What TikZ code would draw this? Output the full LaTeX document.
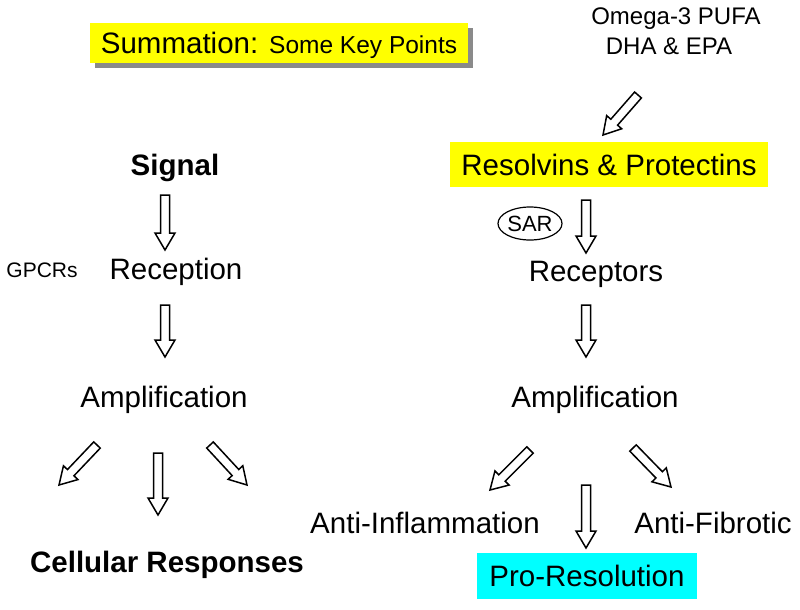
\documentclass[tikz,border=0pt]{standalone}
\usepackage{fontspec}
\setmainfont{Liberation Sans}
\usetikzlibrary{calc,shadows,shapes.geometric}
\definecolor{hiyel}{RGB}{255,255,0}
\definecolor{hicyan}{RGB}{0,255,255}
\tikzset{
  mainfont/.style={font=\fontsize{29.5}{32}\selectfont},
  boldfont/.style={font=\fontsize{29.5}{32}\selectfont\bfseries},
  lbl/.style={mainfont, anchor=base, inner sep=0pt},
  boxlbl/.style={mainfont, inner sep=0pt, text height=21pt, text depth=0pt},
  blockarrow/.style={draw=black, line width=1.5pt, fill=white, line join=miter},
}
\newcommand\hollowarrow[2]{%
  \coordinate (#1-hb) at ($(#2)!17pt!(#1)$);
  \draw[blockarrow]
    ($(#1)!4.5pt!90:(#2)$) -- ($(#1-hb)!4.5pt!90:(#2)$) --
    ($(#1-hb)!10pt!90:(#2)$) -- (#2) -- ($(#1-hb)!10pt!-90:(#2)$) --
    ($(#1-hb)!4.5pt!-90:(#2)$) -- ($(#1)!4.5pt!-90:(#2)$) -- cycle;
}
\begin{document}
\begin{tikzpicture}[x=1pt,y=-1pt]
\useasboundingbox[fill=white] (0,0) rectangle (800,610);

% title box
\node[boxlbl, fill=hiyel, minimum width=378pt, minimum height=40pt,
      drop shadow={shadow xshift=5pt, shadow yshift=-5pt, fill=black!65, opacity=0.7}]
  (sum) at (279,43) {Summation: {\fontsize{24.5}{27}\selectfont Some Key Points}};

% left column
\node[boldfont, anchor=base, inner sep=0pt] (sig) at (175,175) {Signal};
\node[anchor=base, inner sep=0pt, font=\fontsize{21}{24}\selectfont] (gpcr) at (42,277) {GPCRs};
\node[lbl] (rec) at (176,279) {Reception};
\node[lbl] (ampl) at (164,407) {Amplification};
\node[boldfont, anchor=base, inner sep=0pt] (cell) at (167,572) {Cellular Responses};

% right column
\node[anchor=base, inner sep=0pt, font=\fontsize{24}{27}\selectfont] (omega) at (676,25) {Omega-3 PUFA};
\node[anchor=base, inner sep=0pt, font=\fontsize{24}{27}\selectfont] (dha) at (669,55) {DHA \& EPA};
\node[boxlbl, fill=hiyel, minimum width=318pt, minimum height=45pt] (resp) at (609,164.5) {Resolvins \& Protectins};
\node[draw, line width=1.2pt, ellipse, minimum width=64pt, minimum height=33pt, inner sep=0pt,
      font=\fontsize{22}{24}\selectfont] (sar) at (530,223.5) {SAR};
\node[lbl] (recp) at (596,281) {Receptors};
\node[lbl] (ampr) at (595,407) {Amplification};
\node[lbl] (antiinf) at (425,533) {Anti-Inflammation};
\node[lbl] (antifib) at (713,533) {Anti-Fibrotic};
\node[boxlbl, fill=hicyan, minimum width=220pt, minimum height=46pt] (prores) at (587,576) {Pro-Resolution};

% arrow end points
\coordinate (a1s) at (165,195); \coordinate (a1e) at (165,250);
\coordinate (a2s) at (165,305); \coordinate (a2e) at (165,357);
\coordinate (a3s) at (97,445);  \coordinate (a3e) at (59,485);
\coordinate (a4s) at (158,453); \coordinate (a4e) at (158,515);
\coordinate (a5s) at (210,445); \coordinate (a5e) at (247,485);
\coordinate (b0s) at (638,95);  \coordinate (b0e) at (603,135);
\coordinate (b1s) at (586,200); \coordinate (b1e) at (586,253);
\coordinate (b2s) at (586,305); \coordinate (b2e) at (586,357);
\coordinate (b3s) at (530,450); \coordinate (b3e) at (490,490);
\coordinate (b4s) at (586,485); \coordinate (b4e) at (586,548);
\coordinate (b5s) at (633,448); \coordinate (b5e) at (671,487);

\hollowarrow{a1s}{a1e}
\hollowarrow{a2s}{a2e}
\hollowarrow{a3s}{a3e}
\hollowarrow{a4s}{a4e}
\hollowarrow{a5s}{a5e}
\hollowarrow{b0s}{b0e}
\hollowarrow{b1s}{b1e}
\hollowarrow{b2s}{b2e}
\hollowarrow{b3s}{b3e}
\hollowarrow{b4s}{b4e}
\hollowarrow{b5s}{b5e}
\end{tikzpicture}
\end{document}
